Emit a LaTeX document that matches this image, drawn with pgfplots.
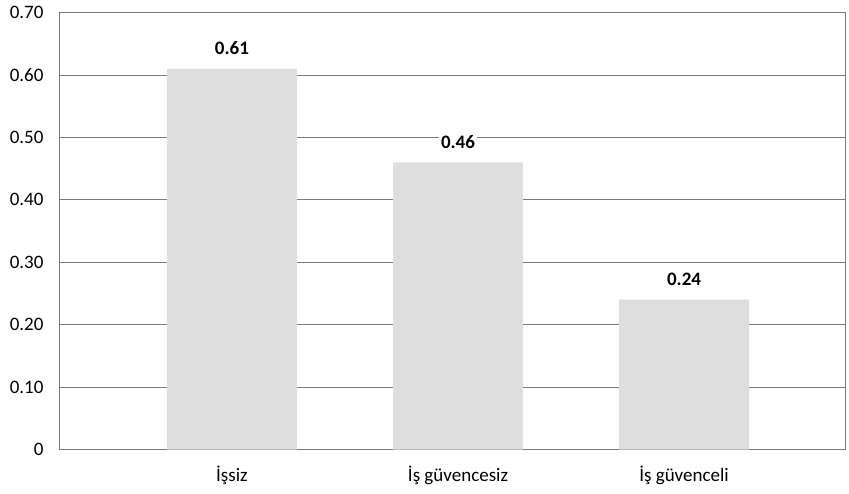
\documentclass[border=0pt]{standalone}
\usepackage{pgfplots}
\pgfplotsset{compat=1.18}
\usetikzlibrary{calc}
\usepackage{fontspec}
\setmainfont{Carlito}
\definecolor{gridgray}{HTML}{7A7A7A}
\definecolor{barfill}{HTML}{DEDEDE}
\begin{document}
\fontsize{19bp}{22bp}\selectfont
\begin{tikzpicture}
\begin{axis}[
  name=ax,
  scale only axis,
  width=786bp, height=437bp,
  xmin=-0.765, xmax=2.712,
  ymin=0, ymax=0.70,
  xtick={0,1,2},
  xticklabels={İşsiz, İş güvencesiz, İş güvenceli},
  ytick={0,0.1,0.2,0.3,0.4,0.5,0.6,0.7},
  yticklabels={0,0.10,0.20,0.30,0.40,0.50,0.60,0.70},
  /pgf/number format/assume math mode=true,
  major tick length=0pt,
  ymajorgrids,
  grid style={draw=gridgray, line width=0.9bp},
  axis line style={draw=gridgray, line width=0.9bp},
  tick label style={font=\fontsize{19bp}{22bp}\selectfont},
  yticklabel style={xshift=-9bp},
  xticklabel style={yshift=-10bp},
  ybar, bar width=0.575,
  nodes near coords={\pgfmathprintnumber[fixed,fixed zerofill,precision=2]{\pgfplotspointmeta}},
  nodes near coords style={font=\fontsize{19bp}{22bp}\selectfont\bfseries, fill=white, inner sep=2bp, yshift=12bp, anchor=south},
]
\addplot[fill=barfill, draw=none] coordinates {(0,0.61) (1,0.46) (2,0.24)};
\end{axis}
\path ($(ax.south west)+(-59bp,-44bp)$) rectangle ($(ax.north east)+(4bp,12bp)$);
\end{tikzpicture}
\end{document}
